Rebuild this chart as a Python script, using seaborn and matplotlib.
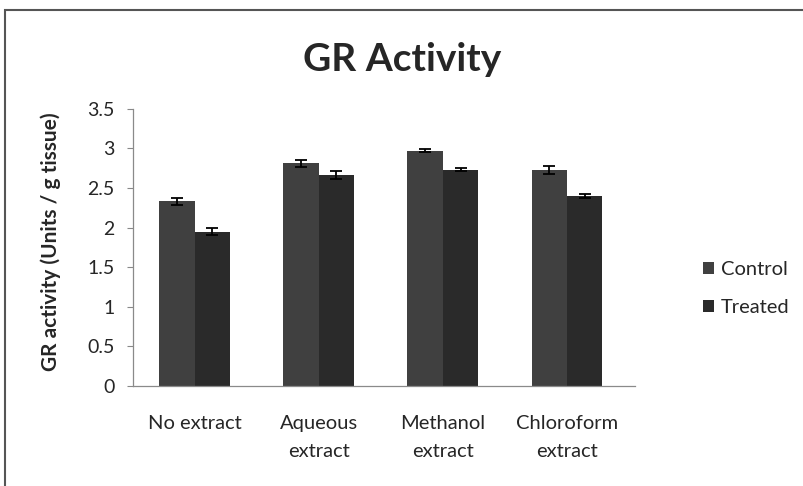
import matplotlib
matplotlib.use("Agg")
import matplotlib.pyplot as plt
import seaborn as sns
import pandas as pd
import numpy as np

categories = ["No extract", "Aqueous\nextract", "Methanol\nextract", "Chloroform\nextract"]
groups = ["Control", "Treated"]
control = [2.33, 2.81, 2.97, 2.73]
treated = [1.95, 2.66, 2.73, 2.40]
control_err = [0.04, 0.04, 0.02, 0.05]
treated_err = [0.04, 0.05, 0.02, 0.02]
yticks = [0, 0.5, 1, 1.5, 2, 2.5, 3, 3.5]
ytick_labels = ["0", "0.5", "1", "1.5", "2", "2.5", "3", "3.5"]

df = pd.DataFrame({
    "Extract": categories * 2,
    "Group": [groups[0]] * 4 + [groups[1]] * 4,
    "Value": control + treated,
})

sns.set_theme(style="white")
plt.rcParams['font.family'] = ['Lato', 'DejaVu Sans']

fig = plt.figure(figsize=(8.04, 4.86), dpi=100)
ax = fig.add_axes([0.165, 0.206, 0.625, 0.570])

palette = {"Control": "#404040", "Treated": "#2a2a2a"}
sns.barplot(data=df, x="Extract", y="Value", hue="Group", palette=palette,
            width=0.57, ax=ax, saturation=1, errorbar=None, legend=True,
            linewidth=0, edgecolor="none")

# error bars
for cont, gname in zip(ax.containers, groups):
    vals = control if gname == "Control" else treated
    e = control_err if gname == "Control" else treated_err
    for bar, v, ee in zip(cont, vals, e):
        xc = bar.get_x() + bar.get_width() / 2
        ax.errorbar(xc, v, yerr=ee, fmt="none", ecolor="black", elinewidth=1.3,
                    capsize=4.5, capthick=1.3)

ax.set_ylim(0, 3.5)
ax.set_xlim(-0.5, 3.55)
ax.set_yticks(yticks)
ax.set_yticklabels(ytick_labels, fontsize=14)
ax.set_xticks(range(len(categories)))
ax.set_xticklabels(categories, fontsize=14.5, linespacing=1.8)
ax.tick_params(axis="x", length=0, pad=21)
ax.tick_params(axis="y", length=4, width=0.8, color="#888888", left=True, pad=9)
ax.set_xlabel("")
ax.set_ylabel("GR activity (Units / g tissue)", fontsize=15, fontweight="bold")
ax.yaxis.set_label_coords(-0.142, 0.52)
for s in ["top", "right"]:
    ax.spines[s].set_visible(False)
for s in ["left", "bottom"]:
    ax.spines[s].set_color("#8a8a8a")
    ax.spines[s].set_linewidth(0.9)

leg = ax.legend(loc="center left", bbox_to_anchor=(1.135, 0.35), frameon=False,
                fontsize=14.5, handlelength=0.55, handleheight=0.55, labelspacing=1.05,
                handletextpad=0.35, borderaxespad=0, borderpad=0)

fig.text(0.50, 0.878, "GR Activity", ha="center", va="center", fontsize=28, fontweight="bold")

# outer chart border
fig.patches.append(plt.Rectangle((0.006, -0.05), 1.2, 1.03, transform=fig.transFigure,
                                 fill=False, edgecolor="#555555", linewidth=1.5))

fig.savefig("out.png", dpi=100)
